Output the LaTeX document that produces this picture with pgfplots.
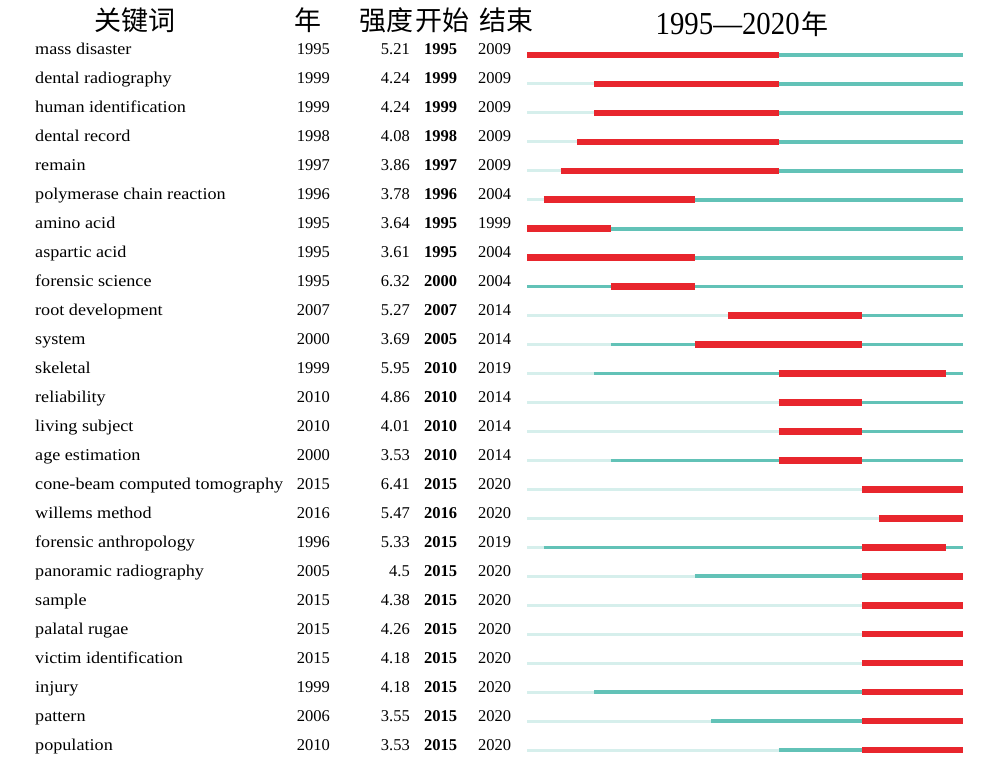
\documentclass[border=0pt]{standalone}
\usepackage{pgfplots}
\pgfplotsset{compat=1.18}
\usepackage{fontspec}
\setmainfont{Liberation Serif}
\newfontfamily\kwfont[FakeStretch=1.1]{Liberation Serif}
\newfontfamily\cjk{Noto Sans CJK SC}
\newfontfamily\hdfont[FakeStretch=0.9]{Liberation Serif}
\definecolor{burst}{HTML}{E8262D}
\definecolor{teal1}{HTML}{62C2B7}
\definecolor{light1}{HTML}{D6EFEC}
% #1 row, #2 keyword, #3 year, #4 strength, #5 begin, #6 end
\newcommand{\row}[6]{%
  \node[anchor=base west,font=\kwfont\fontsize{16.5}{18}\selectfont,inner sep=0pt] at (axis cs:1965.66,#1) {#2};
  \node[anchor=base east,font=\fontsize{16.5}{18}\selectfont,inner sep=0pt] at (axis cs:1983.25,#1) {#3};
  \node[anchor=base east,font=\fontsize{16.5}{18}\selectfont,inner sep=0pt] at (axis cs:1988.02,#1) {#4};
  \node[anchor=base west,font=\bfseries\fontsize{16.5}{18}\selectfont,inner sep=0pt] at (axis cs:1988.86,#1) {#5};
  \node[anchor=base west,font=\fontsize{16.5}{18}\selectfont,inner sep=0pt] at (axis cs:1992.08,#1) {#6};
}
\begin{document}
\begin{tikzpicture}
\begin{axis}[
  scale only axis, width=981pt, height=763pt,
  xmin=1963.573, xmax=2022.073,
  ymin=-1.899, ymax=24.448, y dir=reverse,
  hide axis, clip=false,
  unbounded coords=jump,
]
\path (rel axis cs:0,0) -- (rel axis cs:1,1);
% light background line: whole period 1995-2020
\addplot[light1, line width=3pt, no markers] coordinates {
(1995,0) (2021,0) (nan,nan)
(1995,1) (2021,1) (nan,nan)
(1995,2) (2021,2) (nan,nan)
(1995,3) (2021,3) (nan,nan)
(1995,4) (2021,4) (nan,nan)
(1995,5) (2021,5) (nan,nan)
(1995,6) (2021,6) (nan,nan)
(1995,7) (2021,7) (nan,nan)
(1995,8) (2021,8) (nan,nan)
(1995,9) (2021,9) (nan,nan)
(1995,10) (2021,10) (nan,nan)
(1995,11) (2021,11) (nan,nan)
(1995,12) (2021,12) (nan,nan)
(1995,13) (2021,13) (nan,nan)
(1995,14) (2021,14) (nan,nan)
(1995,15) (2021,15) (nan,nan)
(1995,16) (2021,16) (nan,nan)
(1995,17) (2021,17) (nan,nan)
(1995,18) (2021,18) (nan,nan)
(1995,19) (2021,19) (nan,nan)
(1995,20) (2021,20) (nan,nan)
(1995,21) (2021,21) (nan,nan)
(1995,22) (2021,22) (nan,nan)
(1995,23) (2021,23) (nan,nan)
(1995,24) (2021,24)
};
% teal line: from first appearance year to 2020
\addplot[teal1, line width=3.6pt, no markers] coordinates {
(1995,0) (2021,0) (nan,nan)
(1999,1) (2021,1) (nan,nan)
(1999,2) (2021,2) (nan,nan)
(1998,3) (2021,3) (nan,nan)
(1997,4) (2021,4) (nan,nan)
(1996,5) (2021,5) (nan,nan)
(1995,6) (2021,6) (nan,nan)
(1995,7) (2021,7) (nan,nan)
(1995,8) (2021,8) (nan,nan)
(2007,9) (2021,9) (nan,nan)
(2000,10) (2021,10) (nan,nan)
(1999,11) (2021,11) (nan,nan)
(2010,12) (2021,12) (nan,nan)
(2010,13) (2021,13) (nan,nan)
(2000,14) (2021,14) (nan,nan)
(2015,15) (2021,15) (nan,nan)
(2016,16) (2021,16) (nan,nan)
(1996,17) (2021,17) (nan,nan)
(2005,18) (2021,18) (nan,nan)
(2015,19) (2021,19) (nan,nan)
(2015,20) (2021,20) (nan,nan)
(2015,21) (2021,21) (nan,nan)
(1999,22) (2021,22) (nan,nan)
(2006,23) (2021,23) (nan,nan)
(2010,24) (2021,24)
};
% red burst: begin to end (inclusive)
\addplot[burst, line width=6.6pt, no markers] coordinates {
(1995,0) (2010,0) (nan,nan)
(1999,1) (2010,1) (nan,nan)
(1999,2) (2010,2) (nan,nan)
(1998,3) (2010,3) (nan,nan)
(1997,4) (2010,4) (nan,nan)
(1996,5) (2005,5) (nan,nan)
(1995,6) (2000,6) (nan,nan)
(1995,7) (2005,7) (nan,nan)
(2000,8) (2005,8) (nan,nan)
(2007,9) (2015,9) (nan,nan)
(2005,10) (2015,10) (nan,nan)
(2010,11) (2020,11) (nan,nan)
(2010,12) (2015,12) (nan,nan)
(2010,13) (2015,13) (nan,nan)
(2010,14) (2015,14) (nan,nan)
(2015,15) (2021,15) (nan,nan)
(2016,16) (2021,16) (nan,nan)
(2015,17) (2020,17) (nan,nan)
(2015,18) (2021,18) (nan,nan)
(2015,19) (2021,19) (nan,nan)
(2015,20) (2021,20) (nan,nan)
(2015,21) (2021,21) (nan,nan)
(2015,22) (2021,22) (nan,nan)
(2015,23) (2021,23) (nan,nan)
(2015,24) (2021,24)
};
% header
\node[anchor=base,font=\cjk\fontsize{27}{30}\selectfont,inner sep=0pt] at (axis cs:1971.62,-0.86) {关键词};
\node[anchor=base,font=\cjk\fontsize{27}{30}\selectfont,inner sep=0pt] at (axis cs:1981.94,-0.86) {年};
\node[anchor=base,font=\cjk\fontsize{27}{30}\selectfont,inner sep=0pt] at (axis cs:1986.65,-0.86) {强度};
\node[anchor=base,font=\cjk\fontsize{27}{30}\selectfont,inner sep=0pt] at (axis cs:1989.99,-0.86) {开始};
\node[anchor=base,font=\cjk\fontsize{27}{30}\selectfont,inner sep=0pt] at (axis cs:1993.75,-0.86) {结束};
\node[anchor=base,inner sep=0pt] at (axis cs:2007.82,-0.72) {{\hdfont\fontsize{32}{34}\selectfont 1995—2020}\,{\cjk\fontsize{27}{30}\selectfont 年}};
% rows
\row{0}{mass disaster}{1995}{5.21}{1995}{2009}
\row{1}{dental radiography}{1999}{4.24}{1999}{2009}
\row{2}{human identification}{1999}{4.24}{1999}{2009}
\row{3}{dental record}{1998}{4.08}{1998}{2009}
\row{4}{remain}{1997}{3.86}{1997}{2009}
\row{5}{polymerase chain reaction}{1996}{3.78}{1996}{2004}
\row{6}{amino acid}{1995}{3.64}{1995}{1999}
\row{7}{aspartic acid}{1995}{3.61}{1995}{2004}
\row{8}{forensic science}{1995}{6.32}{2000}{2004}
\row{9}{root development}{2007}{5.27}{2007}{2014}
\row{10}{system}{2000}{3.69}{2005}{2014}
\row{11}{skeletal}{1999}{5.95}{2010}{2019}
\row{12}{reliability}{2010}{4.86}{2010}{2014}
\row{13}{living subject}{2010}{4.01}{2010}{2014}
\row{14}{age estimation}{2000}{3.53}{2010}{2014}
\row{15}{cone-beam computed tomography}{2015}{6.41}{2015}{2020}
\row{16}{willems method}{2016}{5.47}{2016}{2020}
\row{17}{forensic anthropology}{1996}{5.33}{2015}{2019}
\row{18}{panoramic radiography}{2005}{4.5}{2015}{2020}
\row{19}{sample}{2015}{4.38}{2015}{2020}
\row{20}{palatal rugae}{2015}{4.26}{2015}{2020}
\row{21}{victim identification}{2015}{4.18}{2015}{2020}
\row{22}{injury}{1999}{4.18}{2015}{2020}
\row{23}{pattern}{2006}{3.55}{2015}{2020}
\row{24}{population}{2010}{3.53}{2015}{2020}
\end{axis}
\end{tikzpicture}
\end{document}
